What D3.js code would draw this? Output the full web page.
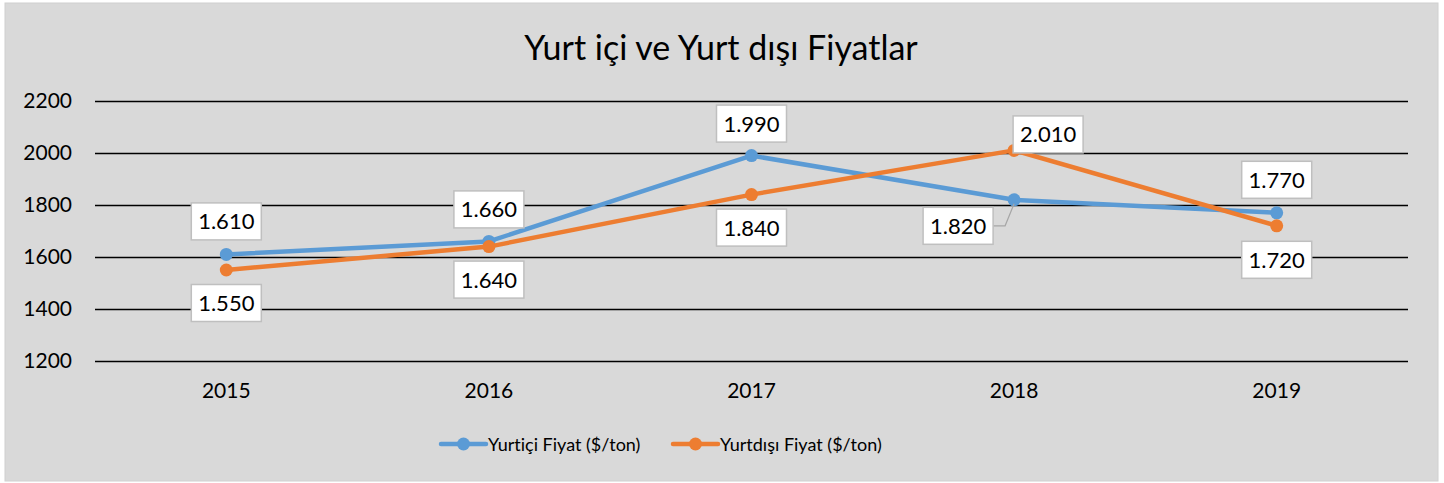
<!DOCTYPE html>
<html>
<head>
<meta charset="utf-8">
<script src="https://cdn.jsdelivr.net/npm/d3@7"></script>
<style>
  body { margin: 0; background: #fff; }
  svg { display: block; font-family: Lato, "Open Sans", sans-serif; font-variant-ligatures: none; }
</style>
</head>
<body>
<svg id="chart"></svg>
<script>
// chart data
const years = ['2015', '2016', '2017', '2018', '2019'];
const yurtici = [1610, 1660, 1990, 1820, 1770];
const yurtdisi = [1550, 1640, 1840, 2010, 1720];
const yTicks = [1200, 1400, 1600, 1800, 2000, 2200];
const seriesNames = ['Yurtiçi Fiyat ($/ton)', 'Yurtdışı Fiyat ($/ton)'];
const title = 'Yurt içi ve Yurt dışı Fiyatlar';

const W = 1444, H = 483;
const colors = ['#5b9bd5', '#ed7d31'];

// label placement (dx, dy from the point), per series
const labelOffsets = [
  [[0, -33], [0, -32], [0, -32], [-56, 26], [0, -33]],
  [[0, 33], [0, 33], [0, 33], [34, -16], [0, 34]]
];

const trLocale = d3.formatLocale({ decimal: ',', thousands: '.', grouping: [3], currency: ['', ''] });
const fmt = trLocale.format(',');

const svg = d3.select('#chart').attr('width', W).attr('height', H);

// background panel
svg.append('rect')
  .attr('x', 5).attr('y', 3)
  .attr('width', 1433).attr('height', 478)
  .attr('fill', '#d9d9d9')
  .attr('stroke', '#d0d0d0');

svg.append('text')
  .attr('x', 721).attr('y', 60)
  .attr('text-anchor', 'middle')
  .attr('font-size', 34)
  .attr('fill', '#000')
  .text(title);

const xScale = d3.scaleBand().domain(years).range([95, 1408]);
const yScale = d3.scaleLinear().domain([1200, 2200]).range([361, 101]);
const xc = d => xScale(d) + xScale.bandwidth() / 2;

// gridlines + y labels
const yAxis = d3.axisLeft(yScale).tickValues(yTicks).tickSize(-(1408 - 95)).tickPadding(23).tickFormat(d3.format('d'));
const gy = svg.append('g').attr('transform', 'translate(95,0)').call(yAxis);
gy.select('.domain').remove();
gy.selectAll('line').attr('stroke', '#000').attr('stroke-width', 1.6);
gy.selectAll('text').attr('font-size', 21).attr('fill', '#000').attr('font-family', 'Lato, sans-serif');

// x labels
const xAxis = d3.axisBottom(xScale).tickSize(0).tickPadding(22);
const gx = svg.append('g').attr('transform', 'translate(0,361)').call(xAxis);
gx.select('.domain').remove();
gx.selectAll('text').attr('font-size', 21).attr('fill', '#000').attr('font-family', 'Lato, sans-serif');

const allSeries = [yurtici, yurtdisi];
const line = d3.line().x((d, i) => xc(years[i])).y(d => yScale(d));

allSeries.forEach((vals, s) => {
  svg.append('path')
    .datum(vals)
    .attr('d', line)
    .attr('fill', 'none')
    .attr('stroke', colors[s])
    .attr('stroke-width', 4.5)
    .attr('stroke-linejoin', 'round')
    .attr('stroke-linecap', 'round');
  svg.selectAll(null).data(vals).enter().append('circle')
    .attr('cx', (d, i) => xc(years[i]))
    .attr('cy', d => yScale(d))
    .attr('r', 6.5)
    .attr('fill', colors[s]);
});

// data labels
allSeries.forEach((vals, s) => {
  vals.forEach((v, i) => {
    const px = xc(years[i]), py = yScale(v);
    const [dx, dy] = labelOffsets[s][i];
    const cx = px + dx, cy = py + dy;
    const bw = 70, bh = 37;
    if (s === 0 && i === 3) {
      // leader line
      svg.append('polyline')
        .attr('points', [[cx + bw / 2, cy], [px - 9, cy], [px, py + 4]].map(p => p.join(',')).join(' '))
        .attr('fill', 'none')
        .attr('stroke', '#a6a6a6')
        .attr('stroke-width', 1.2);
    }
    svg.append('rect')
      .attr('x', cx - bw / 2).attr('y', cy - bh / 2)
      .attr('width', bw).attr('height', bh)
      .attr('fill', '#fff')
      .attr('stroke', '#bfbfbf')
      .attr('stroke-width', 1.5);
    svg.append('text')
      .attr('x', cx).attr('y', cy + 8)
      .attr('text-anchor', 'middle')
      .attr('font-size', 22)
      .attr('fill', '#000')
      .text(fmt(v));
  });
});

// legend
const legendX = [441, 673];
seriesNames.forEach((name, s) => {
  const g = svg.append('g').attr('transform', `translate(${legendX[s]},444)`);
  g.append('line').attr('x1', 0).attr('x2', 45).attr('y1', 0).attr('y2', 0)
    .attr('stroke', colors[s]).attr('stroke-width', 4.5).attr('stroke-linecap', 'round');
  g.append('circle').attr('cx', 22.5).attr('cy', 0).attr('r', 6.5).attr('fill', colors[s]);
  g.append('text').attr('x', 47).attr('y', 7)
    .attr('font-size', 18).attr('fill', '#000')
    .text(name);
});
</script>
</body>
</html>
